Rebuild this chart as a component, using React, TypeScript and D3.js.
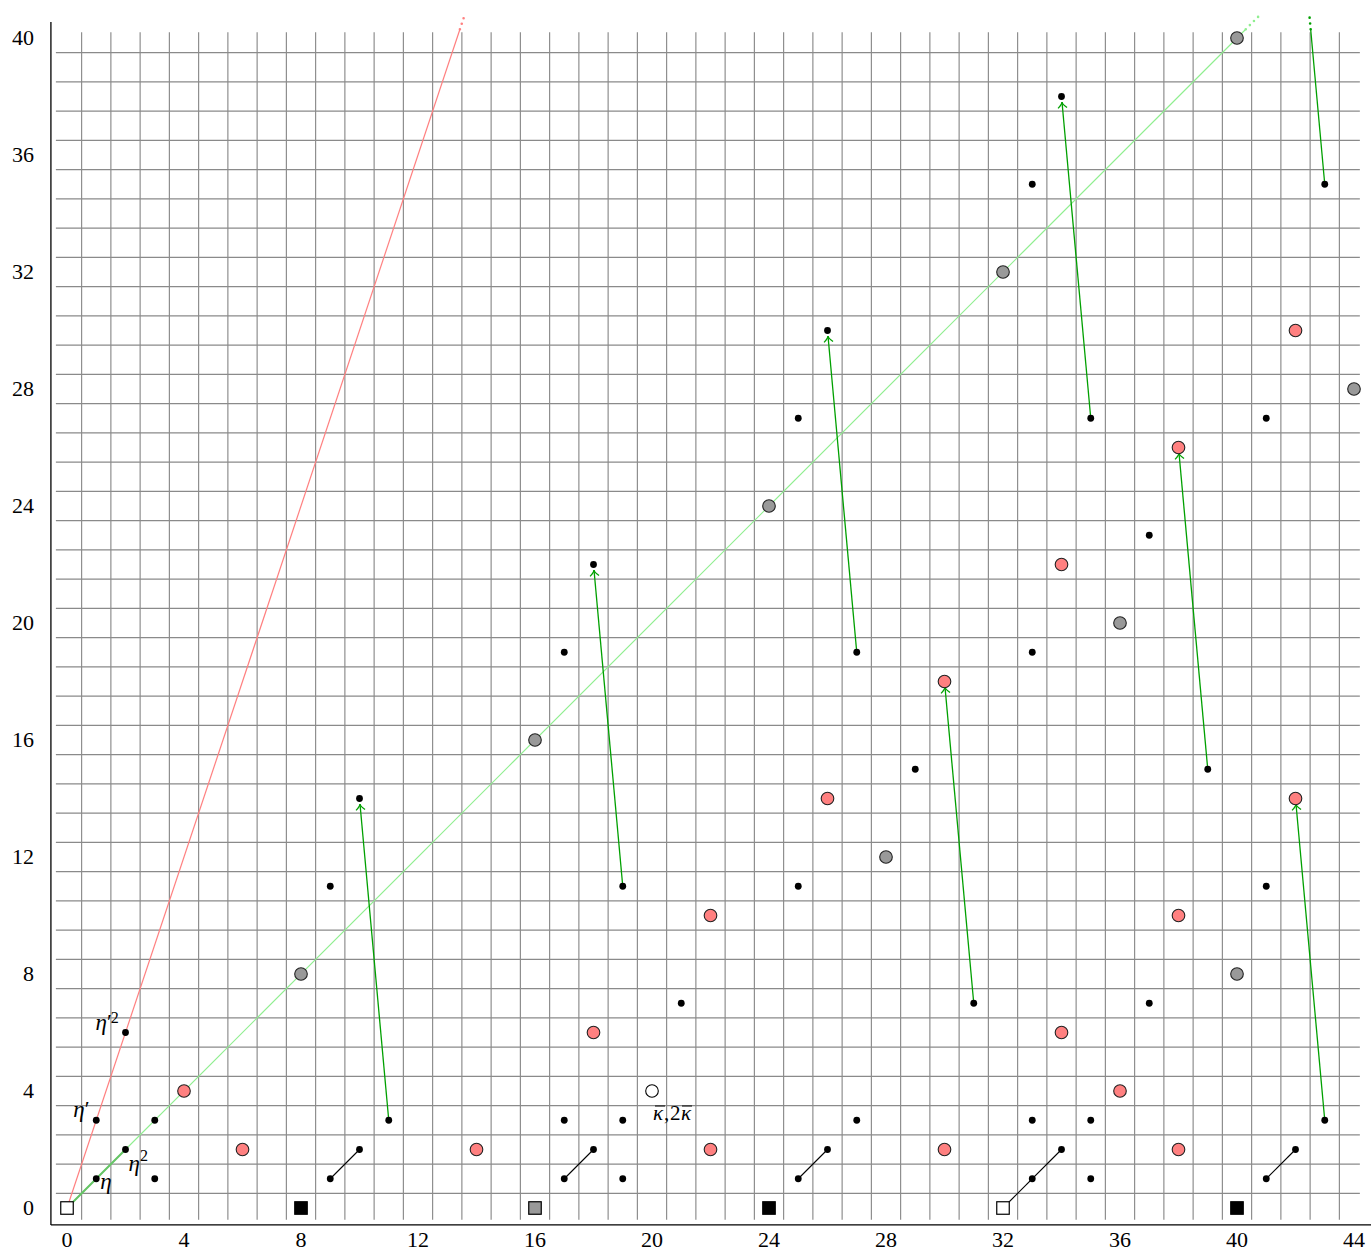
import React from "react";
import * as d3 from "d3";

const xTicks = [0, 4, 8, 12, 16, 20, 24, 28, 32, 36, 40, 44];
const yTicks = [0, 4, 8, 12, 16, 20, 24, 28, 32, 36, 40];

const blackDots: [number, number][] = [
  [1, 1], [2, 2], [3, 3], [3, 1], [1, 3], [2, 6],
  [9, 1], [10, 2], [9, 11], [10, 14], [11, 3],
  [17, 1], [18, 2], [17, 3], [17, 19], [18, 22], [19, 3], [19, 1], [19, 11], [21, 7],
  [25, 1], [26, 2], [25, 11], [25, 27], [26, 30], [27, 3], [27, 19], [29, 15], [31, 7],
  [33, 1], [34, 2], [33, 3], [33, 19], [33, 35], [34, 38], [35, 3], [35, 1], [35, 27],
  [37, 7], [37, 23], [39, 15],
  [41, 1], [42, 2], [41, 11], [41, 27], [43, 3], [43, 35],
];

const pinkCircles: [number, number][] = [
  [4, 4], [6, 2], [14, 2], [18, 6], [22, 2], [22, 10], [26, 14], [30, 2], [30, 18],
  [34, 6], [34, 22], [36, 4], [38, 2], [38, 10], [38, 26], [42, 14], [42, 30],
];

const grayCircles: [number, number][] = [
  [8, 8], [16, 16], [24, 24], [32, 32], [40, 40], [28, 12], [36, 20], [40, 8], [44, 28],
];

const openCircles: [number, number][] = [[20, 4]];

const squares: { x: number; y: number; kind: string }[] = [
  { x: 0, y: 0, kind: "open" },
  { x: 8, y: 0, kind: "black" },
  { x: 16, y: 0, kind: "gray" },
  { x: 24, y: 0, kind: "black" },
  { x: 32, y: 0, kind: "open" },
  { x: 40, y: 0, kind: "black" },
];

const etaLines: [number, number, number, number][] = [
  [9, 1, 10, 2], [17, 1, 18, 2], [25, 1, 26, 2], [32, 0, 34, 2], [41, 1, 42, 2],
];

const differentials: [number, number, number, number][] = [
  [11, 3, 10, 14], [19, 11, 18, 22], [27, 19, 26, 30], [35, 27, 34, 38],
  [31, 7, 30, 18], [39, 15, 38, 26], [43, 3, 42, 14],
];

const offDifferentials: [number, number, number, number][] = [[43, 35, 42, 46]];

// rays from origin: slope, colour
const rays: { slope: number; color: string }[] = [
  { slope: 1, color: "#90ee90" },
  { slope: 3, color: "#ff8080" },
];

const W = 1371;
const H = 1252;

export default function App() {
  const x = d3.scaleLinear().domain([0, 44]).range([67, 1354]);
  const y = d3.scaleLinear().domain([0, 40]).range([1208, 38]);

  const solidTop = 40.3;
  const dotTop = 40.8;

  const gridX = d3.range(0.5, 44, 1);
  const gridY = d3.range(0.5, 40, 1);

  const fillFor = (k: string) => (k === "open" ? "#fff" : k === "gray" ? "#999" : "#000");
  const sq = 12.5;

  const arrowPath = (x1: number, y1: number, x2: number, y2: number) => {
    const px1 = x(x1), py1 = y(y1), px2 = x(x2), py2 = y(y2);
    const dx = px2 - px1, dy = py2 - py1;
    const len = Math.hypot(dx, dy);
    const ux = dx / len, uy = dy / len;
    const tipX = px2 - ux * 5.5, tipY = py2 - uy * 5.5;
    const back = 6, wing = 4.5;
    const bx = tipX - ux * back, by = tipY - uy * back;
    const nx = -uy, ny = ux;
    return {
      line: `M${px1},${py1}L${tipX},${tipY}`,
      head: `M${bx + nx * wing},${by + ny * wing}Q${tipX - ux * 2},${tipY - uy * 2} ${tipX},${tipY}Q${tipX - ux * 2},${tipY - uy * 2} ${bx - nx * wing},${by - ny * wing}`,
    };
  };

  const kx = x(20) + 1;
  const ky = y(4) + 29;

  return (
    <svg width={W} height={H} style={{ position: "absolute", left: 0, top: 0, background: "#fff" }}
      fontFamily="'Liberation Serif', 'DejaVu Serif', serif">
      {/* grid */}
      <g stroke="#8a8a8a" strokeWidth={1.15}>
        {gridX.map((g) => (
          <line key={"gx" + g} x1={x(g)} x2={x(g)} y1={y(-0.4)} y2={y(40.2)} />
        ))}
        {gridY.map((g) => (
          <line key={"gy" + g} x1={x(-0.38)} x2={x(44.2)} y1={y(g)} y2={y(g)} />
        ))}
      </g>
      {/* axes */}
      <line x1={x(-0.55)} x2={x(-0.55)} y1={y(-0.58)} y2={y(40.55)} stroke="#000" strokeWidth={1.3} />
      <line x1={x(-0.55)} x2={W} y1={y(-0.58)} y2={y(-0.58)} stroke="#000" strokeWidth={1.3} />
      {/* tick labels */}
      <g fontSize={22} fill="#000">
        {yTicks.map((t) => (
          <text key={"yt" + t} x={34} y={y(t)} dy="0.34em" textAnchor="end">{t}</text>
        ))}
        {xTicks.map((t) => (
          <text key={"xt" + t} x={x(t)} y={1247} textAnchor="middle">{t}</text>
        ))}
      </g>
      {/* rays */}
      {rays.map((r) => (
        <g key={"ray" + r.slope}>
          <line x1={x(0)} y1={y(0)} x2={x(solidTop / r.slope)} y2={y(solidTop)} stroke={r.color} strokeWidth={1.2} />
          <line x1={x(solidTop / r.slope)} y1={y(solidTop)} x2={x(dotTop / r.slope)} y2={y(dotTop)}
            stroke={r.color} strokeWidth={2.6} strokeLinecap="round" strokeDasharray="0 5.8" />
        </g>
      ))}
      {/* eta from origin */}
      <line x1={x(0)} y1={y(0)} x2={x(2)} y2={y(2)} stroke="#66c466" strokeWidth={2} />
      {/* eta lines */}
      {etaLines.map(([a, b, c, d], i) => (
        <line key={"el" + i} x1={x(a)} y1={y(b)} x2={x(c)} y2={y(d)} stroke="#000" strokeWidth={1.1} />
      ))}
      {/* differentials */}
      {differentials.map(([a, b, c, d], i) => {
        const p = arrowPath(a, b, c, d);
        return (
          <g key={"df" + i} stroke="#00a000" fill="none" strokeWidth={1.3}>
            <path d={p.line} />
            <path d={p.head} />
          </g>
        );
      })}
      {offDifferentials.map(([a, b, c, d], i) => {
        const t1 = (solidTop - b) / (d - b);
        const t2 = (dotTop - b) / (d - b);
        const sx = a + (c - a) * t1, ex = a + (c - a) * t2;
        return (
          <g key={"od" + i}>
            <line x1={x(a)} y1={y(b)} x2={x(sx)} y2={y(solidTop)} stroke="#00a000" strokeWidth={1.3} />
            <line x1={x(sx)} y1={y(solidTop)} x2={x(ex)} y2={y(dotTop)} stroke="#00a000" strokeWidth={2.6}
              strokeLinecap="round" strokeDasharray="0 5.8" />
          </g>
        );
      })}
      {/* squares */}
      {squares.map((s, i) => (
        <rect key={"sq" + i} x={x(s.x) - sq / 2} y={y(s.y) - sq / 2} width={sq} height={sq}
          fill={fillFor(s.kind)} stroke="#000" strokeWidth={1.2} />
      ))}
      {/* circles */}
      {grayCircles.map(([a, b], i) => (
        <circle key={"gc" + i} cx={x(a)} cy={y(b)} r={6.3} fill="#999" stroke="#222" strokeWidth={1.1} />
      ))}
      {pinkCircles.map(([a, b], i) => (
        <circle key={"pc" + i} cx={x(a)} cy={y(b)} r={6.3} fill="#ff8080" stroke="#222" strokeWidth={1.1} />
      ))}
      {openCircles.map(([a, b], i) => (
        <circle key={"oc" + i} cx={x(a)} cy={y(b)} r={6.3} fill="#fff" stroke="#000" strokeWidth={1.1} />
      ))}
      {blackDots.map(([a, b], i) => (
        <circle key={"bd" + i} cx={x(a)} cy={y(b)} r={3.4} fill="#000" />
      ))}
      {/* labels */}
      <g fontSize={23} fontStyle="italic" fill="#000">
        <text x={x(1) + 4} y={y(1) + 10}>η</text>
        <text x={x(2) + 3} y={y(2) + 21}>η<tspan fontSize={16} fontStyle="normal" dy={-10}>2</tspan></text>
        <text x={x(1) - 23} y={y(3) - 3}>η<tspan fontStyle="normal" fontSize={22} dx={0} dy={-1}>′</tspan></text>
        <text x={x(2) - 30} y={y(6) - 3}>η<tspan fontStyle="normal" fontSize={22} dy={-1}>′</tspan><tspan fontStyle="normal" fontSize={16} dx={-1} dy={-6}>2</tspan></text>
      </g>
      <g fontSize={21} fill="#000">
        <text x={kx} y={ky} fontStyle="italic">κ</text>
        <text x={kx + 11} y={ky}>,</text>
        <text x={kx + 17} y={ky}>2</text>
        <text x={kx + 28} y={ky} fontStyle="italic">κ</text>
        <line x1={kx + 2} x2={kx + 12} y1={ky - 14} y2={ky - 14} stroke="#000" strokeWidth={1} />
        <line x1={kx + 29} x2={kx + 39} y1={ky - 14} y2={ky - 14} stroke="#000" strokeWidth={1} />
      </g>
    </svg>
  );
}
